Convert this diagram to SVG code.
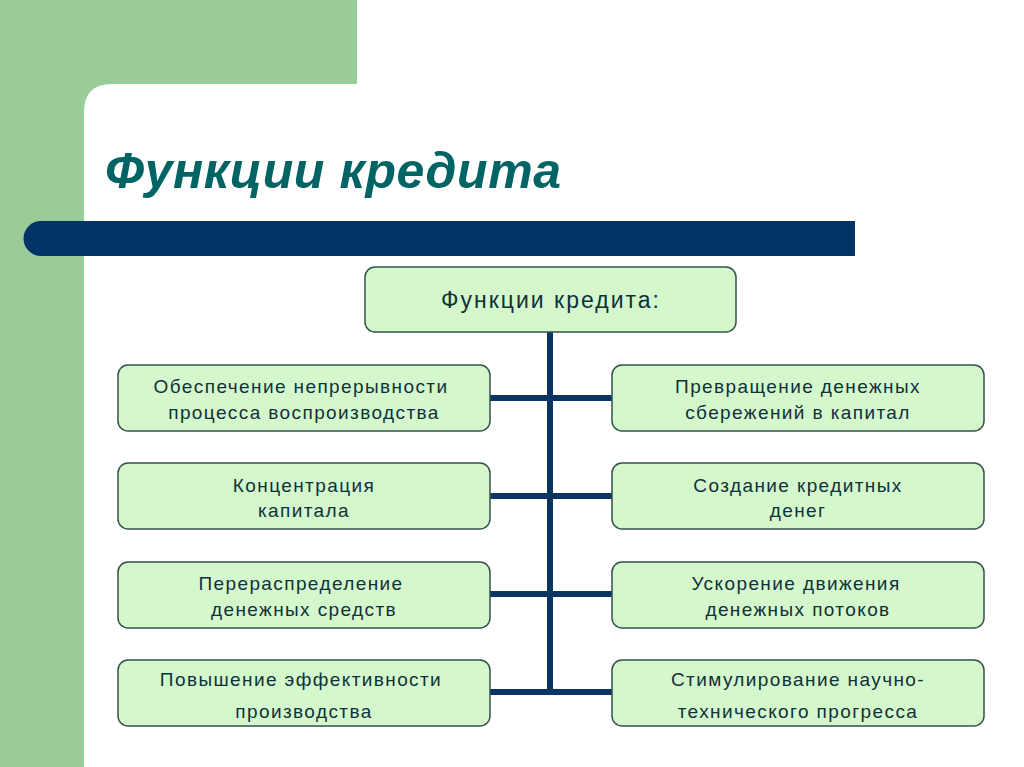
<svg xmlns="http://www.w3.org/2000/svg" width="1024" height="767" viewBox="0 0 1024 767">
<style>
.box{fill:#d4f8cc;stroke:#34524e;stroke-width:1.5}
.t{font-family:"Liberation Sans",Arial,sans-serif;font-size:19px;fill:#10303a;text-anchor:middle;letter-spacing:1.4px}
.ln{stroke:#0a3462;stroke-width:6;fill:none}
</style>
<rect x="0" y="0" width="1024" height="767" fill="#ffffff"/>
<rect x="0" y="0" width="357" height="110" fill="#99cc99"/>
<rect x="0" y="0" width="84" height="767" fill="#99cc99"/>
<path d="M84,767 V112 Q84,84 112,84 H1024 V767 Z" fill="#ffffff"/>
<text x="105" y="188" font-family="Liberation Sans,Arial,sans-serif" font-size="50" font-weight="bold" font-style="italic" fill="#006464" letter-spacing="0.6">Функции кредита</text>
<path d="M41,221 H855 V256 H41 A17.5,17.5 0 0 1 41,221 Z" fill="#003366"/>
<g id="connectors">
<line class="ln" x1="550" y1="332" x2="550" y2="692"/>
<line class="ln" x1="490" y1="398" x2="612" y2="398"/>
<line class="ln" x1="490" y1="496" x2="612" y2="496"/>
<line class="ln" x1="490" y1="594" x2="612" y2="594"/>
<line class="ln" x1="490" y1="692" x2="612" y2="692"/>
</g>
<g id="root"><rect class="box" x="365" y="267" width="371" height="65" rx="10"/><text class="t" x="551" y="308" style="font-size:23px;letter-spacing:2px">Функции кредита:</text></g>
<g id="l1"><rect class="box" x="118" y="365" width="372" height="66" rx="10"/><text class="t" x="301" y="393">Обеспечение непрерывности</text><text class="t" x="304" y="419">процесса воспроизводства</text></g>
<g id="l2"><rect class="box" x="118" y="463" width="372" height="66" rx="10"/><text class="t" x="304" y="492">Концентрация</text><text class="t" x="304" y="517">капитала</text></g>
<g id="l3"><rect class="box" x="118" y="562" width="372" height="66" rx="10"/><text class="t" x="301" y="590">Перераспределение</text><text class="t" x="304" y="616">денежных средств</text></g>
<g id="l4"><rect class="box" x="118" y="660" width="372" height="66" rx="10"/><text class="t" x="301" y="686">Повышение эффективности</text><text class="t" x="304" y="718">производства</text></g>
<g id="r1"><rect class="box" x="612" y="365" width="372" height="66" rx="10"/><text class="t" x="798" y="393">Превращение денежных</text><text class="t" x="798" y="419">сбережений в капитал</text></g>
<g id="r2"><rect class="box" x="612" y="463" width="372" height="66" rx="10"/><text class="t" x="798" y="492">Создание кредитных</text><text class="t" x="798" y="517">денег</text></g>
<g id="r3"><rect class="box" x="612" y="562" width="372" height="66" rx="10"/><text class="t" x="796" y="590">Ускорение движения</text><text class="t" x="798" y="616">денежных потоков</text></g>
<g id="r4"><rect class="box" x="612" y="660" width="372" height="66" rx="10"/><text class="t" x="798" y="686">Стимулирование научно-</text><text class="t" x="798" y="718">технического прогресса</text></g>
</svg>
